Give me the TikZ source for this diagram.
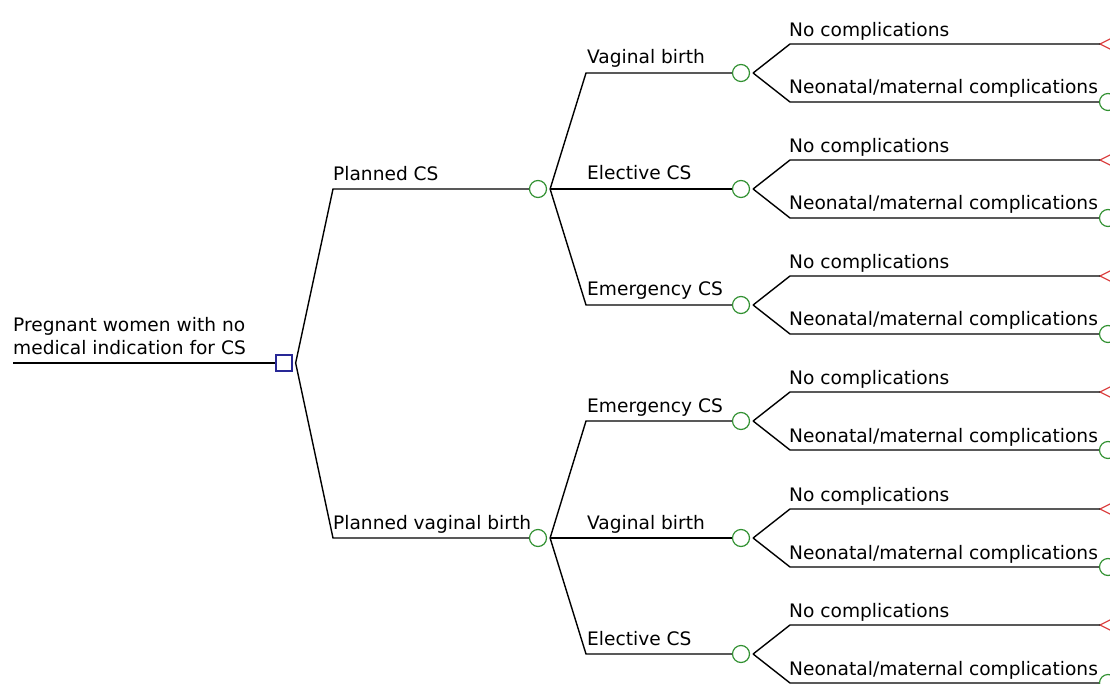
\documentclass[tikz,border=0pt]{standalone}
\usepackage{fontspec}
\setmainfont{DejaVu Sans}
\definecolor{decblue}{RGB}{40,40,150}
\definecolor{chgreen}{RGB}{50,145,50}
\definecolor{termred}{RGB}{220,70,70}
\tikzset{
  branch/.style={line width=1.4pt, black},
  decision/.style={draw=decblue, line width=1.3pt, rectangle, minimum size=16pt, inner sep=0pt},
  chance/.style={draw=chgreen, line width=1.2pt, circle, minimum size=17pt, inner sep=0pt},
  term/.style={draw=termred, line width=1.2pt},
  lbl/.style={anchor=base west, inner sep=0pt, text=black, font=\fontsize{18.6}{23}\selectfont},
}

\begin{document}
\begin{tikzpicture}[x=1pt, y=-1pt]
  \useasboundingbox (0,0) rectangle (1110,684);
  \clip (0,0) rectangle (1110,684);

  % decision and chance nodes
  \node[decision] (dec) at (284,363) {};
  \node[chance] (cs) at (538,189) {};
  \node[chance] (vb) at (538,538) {};
  \node[chance] (cs-vb) at (741,73) {};
  \node[chance] (cs-el) at (741,189) {};
  \node[chance] (cs-em) at (741,305) {};
  \node[chance] (vb-em) at (741,421) {};
  \node[chance] (vb-vb) at (741,538) {};
  \node[chance] (vb-el) at (741,654) {};

  % labels
  \node[lbl, align=left] (root) at (13,354) {Pregnant women with no\\medical indication for CS};
  \node[lbl] (l-cs) at (333,181) {Planned CS};
  \node[lbl] (l-vb) at (333,529) {Planned vaginal birth};
  \node[lbl] (l-cs-vb) at (587,64) {Vaginal birth};
  \node[lbl] (l-cs-el) at (587,180) {Elective CS};
  \node[lbl] (l-cs-em) at (587,296) {Emergency CS};
  \node[lbl] (l-vb-em) at (587,412) {Emergency CS};
  \node[lbl] (l-vb-vb) at (587,529) {Vaginal birth};
  \node[lbl] (l-vb-el) at (587,645) {Elective CS};

  % branches
  \coordinate (start) at (13,363);
  \draw[branch] (start) -- (dec);
  \draw[branch] ([xshift=3pt]dec.east) -- (333,0 |- cs) -- (cs);
  \draw[branch] ([xshift=3pt]dec.east) -- (333,0 |- vb) -- (vb);
  \draw[branch] ([xshift=3pt]cs.east) -- (586,0 |- cs-vb) -- (cs-vb);
  \draw[branch] ([xshift=3pt]cs.east) -- (586,0 |- cs-el) -- (cs-el);
  \draw[branch] ([xshift=3pt]cs.east) -- (586,0 |- cs-em) -- (cs-em);
  \draw[branch] ([xshift=3pt]vb.east) -- (586,0 |- vb-em) -- (vb-em);
  \draw[branch] ([xshift=3pt]vb.east) -- (586,0 |- vb-vb) -- (vb-vb);
  \draw[branch] ([xshift=3pt]vb.east) -- (586,0 |- vb-el) -- (vb-el);

  % outcomes
  \foreach \n/\y in {cs-vb/73, cs-el/189, cs-em/305, vb-em/421, vb-vb/538, vb-el/654} {
    \node[chance] (\n-c) at (1108,\y+29) {};
    \coordinate (\n-t) at (1100,\y-29);
    \draw[term] (\n-t) -- ++(14,-7) -- ++(0,14) -- cycle;
    \draw[branch] ([xshift=3pt]\n.east) -- (790,\y-29) -- (\n-t);
    \draw[branch] ([xshift=3pt]\n.east) -- (790,\y+29) -- (\n-c);
    \node[lbl] (\n-no) at (789,\y-36.5) {No complications};
    \node[lbl] (\n-neo) at (789,\y+21) {Neonatal/maternal complications};
  }
\end{tikzpicture}
\end{document}
